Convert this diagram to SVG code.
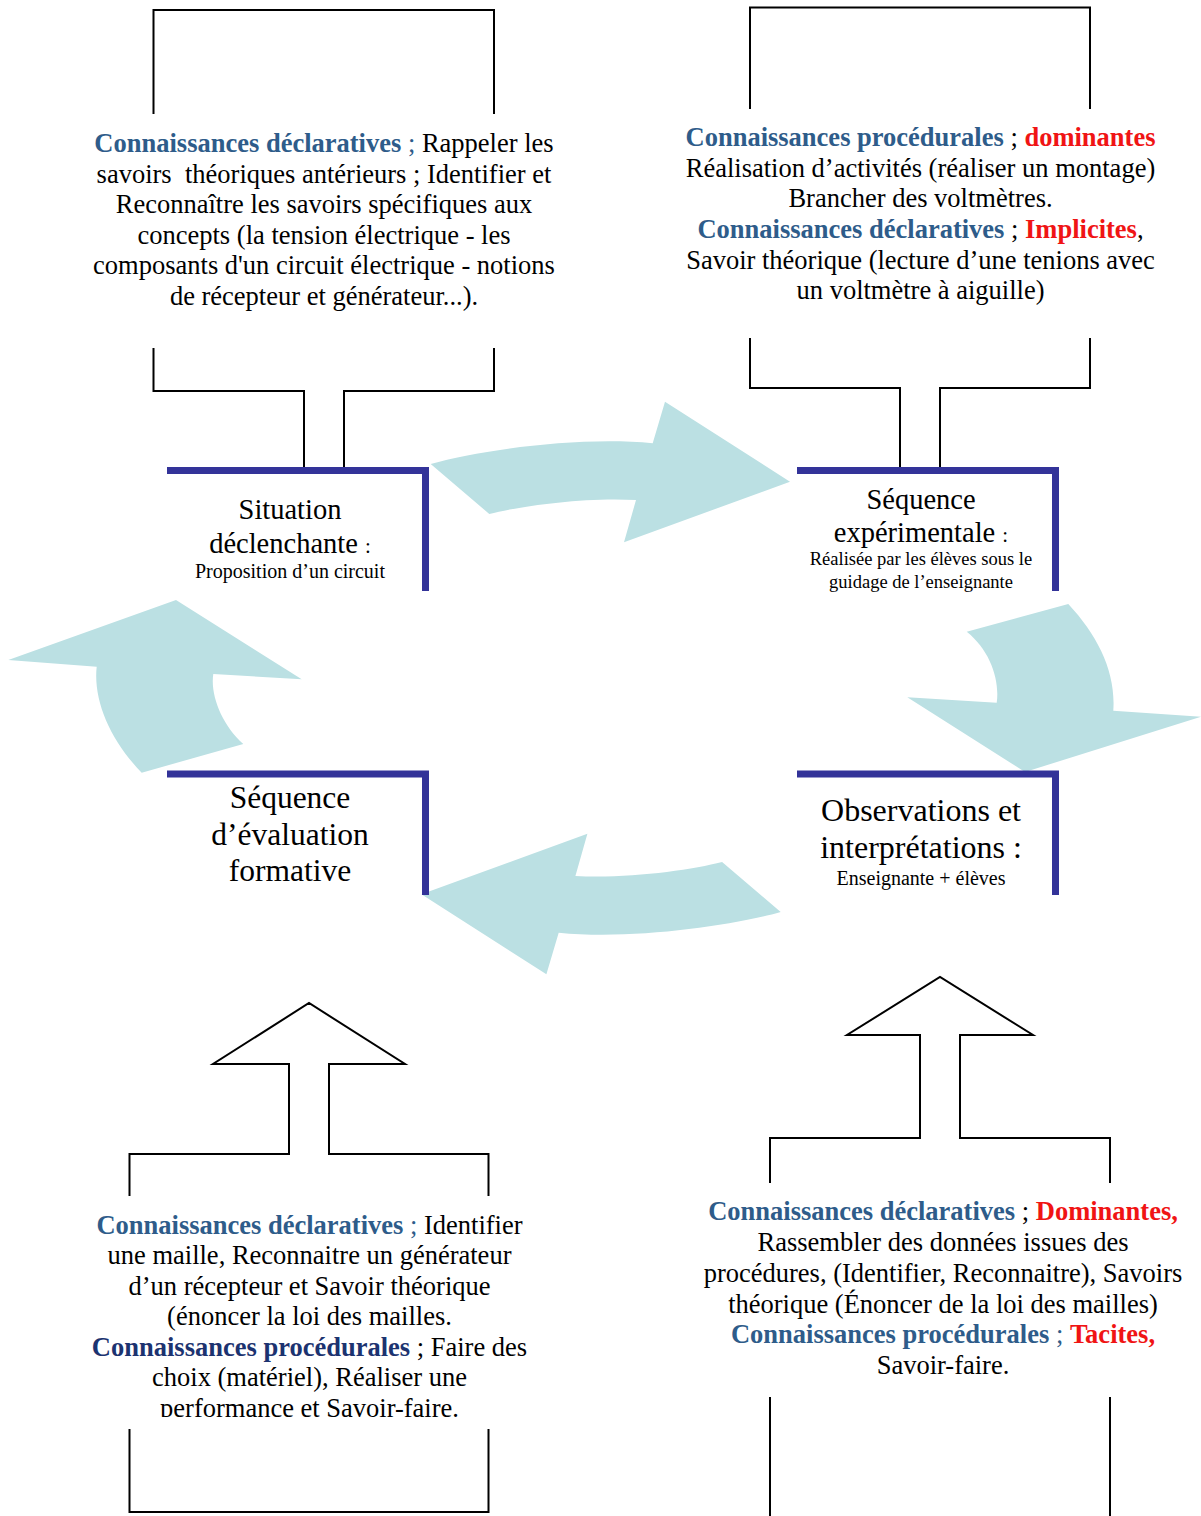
<svg xmlns="http://www.w3.org/2000/svg" width="1201" height="1516" viewBox="0 0 1201 1516">
<style>
text{font-family:"Liberation Serif","Times New Roman",serif;fill:#000;text-anchor:middle}
.c{font-size:26.5px}
.b{font-weight:bold}
.bl{fill:#2E5C8A}
.nv{fill:#1C3370}
.rd{fill:#F01414}
.frame{fill:none;stroke:#000;stroke-width:2}
.node{fill:none;stroke:#333399;stroke-width:7}
.flow{fill:#BBE0E3}
</style>
<defs>
<clipPath id="clipBL"><rect x="0" y="0" width="1201" height="1417"/></clipPath>
</defs>
<g id="connectors">
<path id="arrow-top" class="flow" d="M430.7 464 C480 450 580 436 652.7 443.3 L665 401.7 L790 481.7 L624 542.3 L636 500 C585 497 520 506 489.3 514 Z"/>
<path id="arrow-right" class="flow" d="M966.7 631.7 L1068.3 604 C1098 636 1116 672 1113.3 710.7 L1201 716.7 L1025 772 L907.3 697.3 L996.7 702.7 C1000 680 990 650 966.7 631.7 Z"/>
<path id="arrow-bottom" class="flow" transform="rotate(180 605.7 688)" d="M430.7 464 C480 450 580 436 652.7 443.3 L665 401.7 L790 481.7 L624 542.3 L636 500 C585 497 520 506 489.3 514 Z"/>
<path id="arrow-left" class="flow" d="M141.7 772.7 C110 740 93 700 96.7 666.7 L8.3 660 L176 600 L301.7 679.3 L213.3 674 C210 695 222 725 243.3 744 Z"/>
</g>
<g id="callout-top-left">
<path class="frame" d="M153.5 114 V10 H494 V114"/>
<path class="frame" d="M153.5 348 V391 H304 V467 M344 467 V391 H494 V348"/>
<text class="c" x="324" y="152"><tspan class="b bl">Connaissances déclaratives</tspan><tspan class="bl"> ;</tspan> Rappeler les</text>
<text class="c" x="324" y="182.5" xml:space="preserve">savoirs  théoriques antérieurs ; Identifier et</text>
<text class="c" x="324" y="213">Reconnaître les savoirs spécifiques aux</text>
<text class="c" x="324" y="243.5">concepts (la tension électrique - les</text>
<text class="c" x="324" y="274">composants d'un circuit électrique - notions</text>
<text class="c" x="324" y="304.5">de récepteur et générateur...).</text>
</g>
<g id="callout-top-right">
<path class="frame" d="M750 109 V7.5 H1090 V109"/>
<path class="frame" d="M750 338 V388 H900 V467 M940 467 V388 H1090 V338"/>
<text class="c" x="920.5" y="146"><tspan class="b bl">Connaissances procédurales</tspan> ; <tspan class="b rd">dominantes</tspan></text>
<text class="c" x="920.5" y="177">Réalisation d’activités (réaliser un montage)</text>
<text class="c" x="920.5" y="207">Brancher des voltmètres.</text>
<text class="c" x="920.5" y="238"><tspan class="b bl">Connaissances déclaratives</tspan> ; <tspan class="b rd">Implicites</tspan>,</text>
<text class="c" x="920.5" y="268.5">Savoir théorique (lecture d’une tenions avec</text>
<text class="c" x="920.5" y="299">un voltmètre à aiguille)</text>
</g>
<g id="callout-bottom-left">
<path class="frame" d="M129.5 1196 V1154 H289 V1064 H213 L309 1003 L405 1064 H329 V1154 H488.5 V1196"/>
<path class="frame" d="M129.5 1429 V1512 H488.5 V1429"/>
<text class="c" x="309.5" y="1233.5"><tspan class="b bl">Connaissances déclaratives</tspan><tspan class="bl"> ;</tspan> Identifier</text>
<text class="c" x="309.5" y="1264">une maille, Reconnaitre un générateur</text>
<text class="c" x="309.5" y="1294.5">d’un récepteur et Savoir théorique</text>
<text class="c" x="309.5" y="1325">(énoncer la loi des mailles.</text>
<text class="c" x="309.5" y="1355.5"><tspan class="b nv">Connaissances procédurales</tspan> ; Faire des</text>
<text class="c" x="309.5" y="1386">choix (matériel), Réaliser une</text>
<text class="c" x="309.5" y="1416.5" clip-path="url(#clipBL)">performance et Savoir-faire.</text>
</g>
<g id="callout-bottom-right">
<path class="frame" d="M770 1183 V1138 H920 V1035 H847 L940 977 L1033 1035 H960 V1138 H1110 V1183"/>
<path class="frame" d="M770 1397 V1516 M1110 1397 V1516"/>
<text class="c" x="943" y="1220"><tspan class="b bl">Connaissances déclaratives</tspan> ; <tspan class="b rd">Dominantes,</tspan></text>
<text class="c" x="943" y="1251">Rassembler des données issues des</text>
<text class="c" x="943" y="1282">procédures, (Identifier, Reconnaitre), Savoirs</text>
<text class="c" x="943" y="1312.5">théorique (Énoncer de la loi des mailles)</text>
<text class="c" x="943" y="1343"><tspan class="b bl">Connaissances procédurales</tspan><tspan class="bl"> ; </tspan><tspan class="b rd">Tacites,</tspan></text>
<text class="c" x="943" y="1374">Savoir-faire.</text>
</g>
<g id="node-situation">
<path class="node" d="M167 470.5 H425.5 V591"/>
<text x="290" y="519" font-size="28.5">Situation</text>
<text x="290" y="553" font-size="28.5">déclenchante <tspan font-size="21">:</tspan></text>
<text x="290" y="577.5" font-size="20">Proposition d’un circuit</text>
</g>
<g id="node-experimentale">
<path class="node" d="M797 470.5 H1055.5 V591"/>
<text x="921" y="509" font-size="28.5">Séquence</text>
<text x="921" y="542" font-size="28.5">expérimentale <tspan font-size="21">:</tspan></text>
<text x="921" y="565" font-size="18.5">Réalisée par les élèves sous le</text>
<text x="921" y="587.5" font-size="18.5">guidage de l’enseignante</text>
</g>
<g id="node-evaluation">
<path class="node" d="M167 774 H425.5 V895"/>
<text x="290" y="807.5" font-size="31.5">Séquence</text>
<text x="290" y="844.5" font-size="31.5">d’évaluation</text>
<text x="290" y="880.5" font-size="31.5">formative</text>
</g>
<g id="node-observations">
<path class="node" d="M797 774 H1055.5 V895"/>
<text x="921" y="821" font-size="32">Observations et</text>
<text x="921" y="858" font-size="32">interprétations :</text>
<text x="921" y="884.5" font-size="20">Enseignante + élèves</text>
</g>
</svg>
